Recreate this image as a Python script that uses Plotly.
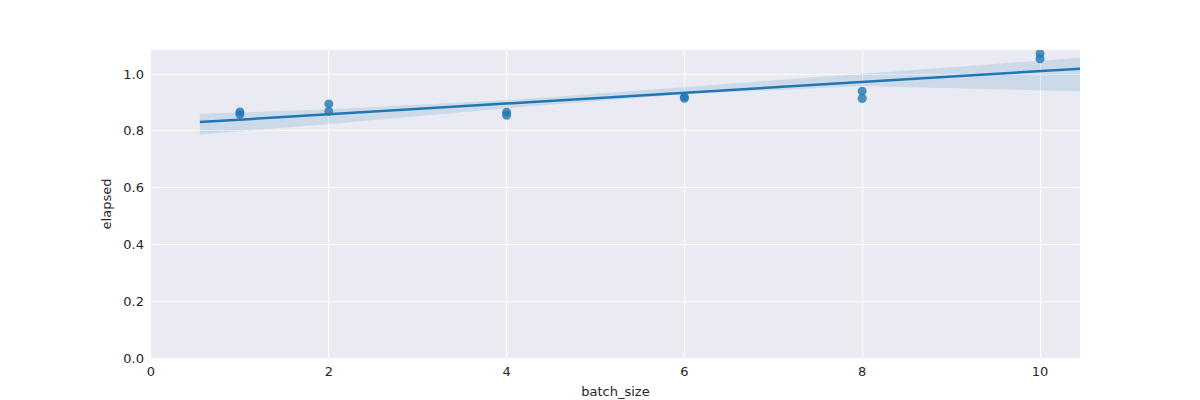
import plotly.graph_objects as go

batch_size = [1, 1, 2, 2, 4, 4, 6, 6, 8, 8, 10, 10]
elapsed = [0.867, 0.858, 0.895, 0.869, 0.866, 0.855, 0.920, 0.915, 0.940, 0.914, 1.072, 1.054]

fit_x = [0.55, 10.45]
fit_y = [0.831, 1.019]

band_x = [0.55, 2, 4, 6, 8, 10.45]
band_hi = [0.860, 0.876, 0.908, 0.954, 1.000, 1.058]
band_lo = [0.787, 0.824, 0.880, 0.929, 0.958, 0.940]

fig = go.Figure()
fig.add_trace(go.Scatter(x=band_x + band_x[::-1], y=band_hi + band_lo[::-1], fill="toself",
                         fillcolor="rgba(31,119,180,0.15)", line=dict(width=0), mode="lines",
                         hoverinfo="skip", showlegend=False))
fig.add_trace(go.Scatter(x=batch_size, y=elapsed, mode="markers",
                         marker=dict(color="#1f77b4", size=9, opacity=0.8), showlegend=False))
fig.add_trace(go.Scatter(x=fit_x, y=fit_y, mode="lines", line=dict(color="#1f77b4", width=2.5),
                         showlegend=False))

axis = dict(gridcolor="white", gridwidth=1, zeroline=False, showline=False, ticks="",
            tickfont=dict(size=13, color="#262626"), title_font=dict(size=13, color="#262626"))
fig.update_layout(
    width=1200, height=400, paper_bgcolor="white", plot_bgcolor="#EAEAF2",
    margin=dict(l=143, r=128, t=42, b=50),
    font=dict(family="DejaVu Sans"),
    xaxis=dict(axis, range=[0, 10.45], tickvals=[0, 2, 4, 6, 8, 10], ticklabelstandoff=4,
               title=dict(text="batch_size", standoff=8)),
    yaxis=dict(axis, range=[0, 1.085], tickvals=[0, 0.2, 0.4, 0.6, 0.8, 1.0], tickformat=".1f",
               ticklabelstandoff=6, title=dict(text="elapsed", standoff=8)),
)
fig.write_html("out.html")
